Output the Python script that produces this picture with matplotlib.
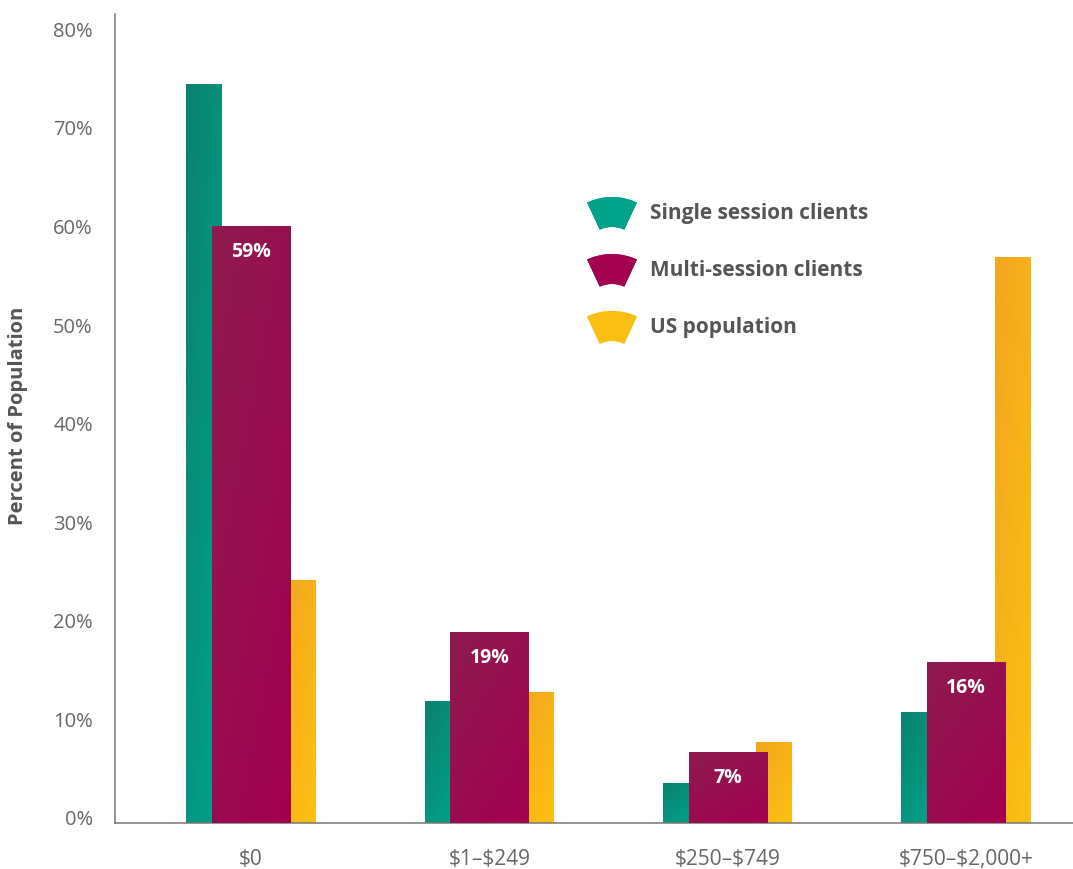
import matplotlib
matplotlib.use("Agg")
import matplotlib.pyplot as plt
import numpy as np
from matplotlib.colors import LinearSegmentedColormap
from matplotlib.patches import Wedge
from matplotlib.transforms import ScaledTranslation

plt.rcParams['font.family'] = ['Open Sans', 'DejaVu Sans']
plt.rcParams['text.parse_math'] = False

# data
categories = ['$0', '$1–$249', '$250–$749', '$750–$2,000+']
single_session = [75.0, 12.4, 4.1, 11.3]
multi_session = [60.5, 19.4, 7.2, 16.3]
us_population = [24.6, 13.3, 8.2, 57.4]
multi_labels = ['59%', '19%', '7%', '16%']
series_names = ['Single session clients', 'Multi-session clients', 'US population']

# gradient colour pairs (top-left -> bottom-right)
teal = ('#0b8270', '#00a38a')
magenta = ('#8e1b50', '#a3004f')
yellow = ('#f3a61e', '#fcc113')

W, H = 1073, 870
fig = plt.figure(figsize=(W / 100, H / 100), dpi=100)
ax = fig.add_axes([115 / W, 46 / H, 1 - 115 / W, (824 - 15) / H])

x = np.arange(len(categories))
ramp = np.add.outer(np.linspace(0, 1, 64) * 0.6, np.linspace(0, 1, 32) * 0.4)


def gradient_bars(offset, width, values, colors, z):
    cmap = LinearSegmentedColormap.from_list('g', colors)
    bars = ax.bar(x + offset, values, width, color=colors[1], zorder=z, linewidth=0)
    for p in bars:
        x0, y0 = p.get_x(), p.get_y()
        im = ax.imshow(ramp, cmap=cmap, vmin=0, vmax=1, aspect='auto', origin='upper',
                       extent=[x0, x0 + p.get_width(), y0, y0 + p.get_height()],
                       zorder=z + 0.1, interpolation='bilinear')
        im.set_clip_path(p)
    return bars


gradient_bars(-0.196, 0.151, single_session, teal, 2)
gradient_bars(0.196, 0.151, us_population, yellow, 2)
mbars = gradient_bars(0, 0.328, multi_session, magenta, 3)

for p, lab in zip(mbars, multi_labels):
    ax.annotate(lab, (p.get_x() + p.get_width() / 2, p.get_height()),
                xytext=(0, -18), textcoords='offset points', ha='center', va='center',
                color='white', fontsize=14, fontweight='bold', zorder=5)

ax.set_xlim(-0.571, 3.449)
ax.set_ylim(0, 82.05)
ax.set_yticks(np.arange(0, 81, 10))
ax.set_yticklabels([f'{v}%' for v in range(0, 81, 10)])
ax.set_xticks(x)
ax.set_xticklabels(categories)
ax.tick_params(axis='y', length=0, pad=16, labelsize=14.5, labelcolor='#666666')
ax.tick_params(axis='x', length=0, pad=18, labelsize=15, labelcolor='#666666')
for lab in ax.get_yticklabels():
    lab.set_transform(lab.get_transform() + ScaledTranslation(0, 6 / 100, fig.dpi_scale_trans))

for s in ['top', 'right']:
    ax.spines[s].set_visible(False)
for s in ['left', 'bottom']:
    ax.spines[s].set_color('#777777')
    ax.spines[s].set_linewidth(1.1)

fig.text(18 / W, 1 - 416 / H, 'Percent of Population', rotation=90, ha='center', va='center',
         fontsize=14.5, fontweight='bold', color='#555555')

# legend with arc-shaped markers, drawn in pixel coordinates
lax = fig.add_axes([0, 0, 1, 1])
lax.set_xlim(0, W)
lax.set_ylim(0, H)
lax.axis('off')
legend_colors = [('#00a38a', '#00a38a'), ('#8e1b50', '#a3004f'), ('#fbbf14', '#fbbf14')]
for i, (name, cols) in enumerate(zip(series_names, legend_colors)):
    cy = H - (257 + 57 * i)
    wdg = Wedge((612, cy), 59, 65, 115, width=30, facecolor=cols[1], edgecolor='none')
    lax.add_patch(wdg)
    cmap = LinearSegmentedColormap.from_list('l', cols)
    im = lax.imshow(np.linspace(0, 1, 32)[None, :], cmap=cmap, aspect='auto',
                    extent=[585, 640, cy + 25, cy + 60], interpolation='bilinear')
    im.set_clip_path(wdg)
    lax.text(650, H - (213 + 57 * i), name, ha='left', va='center', fontsize=15,
             fontweight='bold', color='#555555')

fig.savefig('out.png', dpi=100, facecolor='white')
